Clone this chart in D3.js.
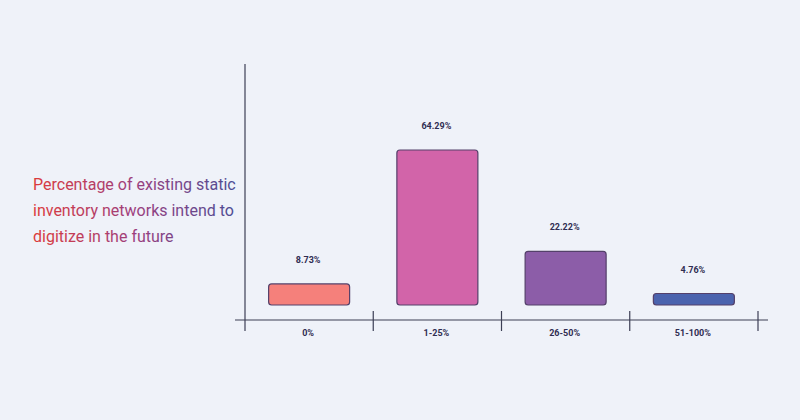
<!DOCTYPE html>
<html>
<head>
<meta charset="utf-8">
<script src="https://cdn.jsdelivr.net/npm/d3@7"></script>
<style>
  body { margin: 0; background: #eff2f9; }
  svg { display: block; }
</style>
</head>
<body>
<div id="chart-area"></div>
<script>
// chart data
var categories = ["0%", "1-25%", "26-50%", "51-100%"];
var values = [8.73, 64.29, 22.22, 4.76];
var barColors = ["#f5807b", "#d264a9", "#8c5da8", "#4b63ae"];
var titleLines = ["Percentage of existing static", "inventory networks intend to", "digitize in the future"];

var width = 800, height = 420;
var svg = d3.select("#chart-area").append("svg").attr("width", width).attr("height", height);
svg.append("rect").attr("width", width).attr("height", height).attr("fill", "#eff2f9");

var axisY = 320;
var baseY = 305;
var x = d3.scaleBand().domain(categories).range([245, 758]).paddingInner(0).paddingOuter(0);
var y = d3.scaleLinear().domain([0, 64.29]).range([baseY, 150]);

// title gradient
var defs = svg.append("defs");
var grad = defs.append("linearGradient").attr("id", "titleGrad")
    .attr("gradientUnits", "userSpaceOnUse").attr("x1", 33).attr("y1", 0).attr("x2", 236).attr("y2", 0);
grad.append("stop").attr("offset", "0%").attr("stop-color", "#dc3a3c");
grad.append("stop").attr("offset", "50%").attr("stop-color", "#9c3f7e");
grad.append("stop").attr("offset", "100%").attr("stop-color", "#4c4c94");

svg.append("g").selectAll("text").data(titleLines).enter().append("text")
    .attr("x", 33).attr("y", (d, i) => 190 + i * 26)
    .attr("font-family", "Roboto, sans-serif").attr("font-size", "16px")
    .attr("fill", "url(#titleGrad)")
    .text(d => d);

// axes
svg.append("line").attr("x1", 245).attr("x2", 245).attr("y1", 64).attr("y2", 331)
    .attr("stroke", "#3c3f55").attr("stroke-width", 1.2);
svg.append("line").attr("x1", 235).attr("x2", 768).attr("y1", axisY).attr("y2", axisY)
    .attr("stroke", "#3c3f55").attr("stroke-width", 1.2);

var tickXs = categories.map(c => x(c)).concat([x.range()[1]]);
svg.append("g").selectAll("line").data(tickXs.slice(1)).enter().append("line")
    .attr("x1", d => d).attr("x2", d => d).attr("y1", 311).attr("y2", 331)
    .attr("stroke", "#3c3f55").attr("stroke-width", 1.2);

svg.append("g").selectAll("text").data(categories).enter().append("text")
    .attr("x", c => x(c) + x.bandwidth() / 2 - 1).attr("y", 336)
    .attr("text-anchor", "middle")
    .attr("font-family", "Roboto, sans-serif").attr("font-weight", "bold").attr("font-size", "9px")
    .attr("fill", "#2f2d52")
    .text(c => c);

// bars
var barW = 81;
svg.append("g").selectAll("rect").data(values).enter().append("rect")
    .attr("x", (d, i) => x(categories[i]) + (x.bandwidth() - barW) / 2)
    .attr("y", d => y(d))
    .attr("width", barW)
    .attr("height", d => baseY - y(d))
    .attr("rx", 3).attr("ry", 3)
    .attr("fill", (d, i) => barColors[i])
    .attr("stroke", "#54406a").attr("stroke-width", 1.2);

// value labels
svg.append("g").selectAll("text").data(values).enter().append("text")
    .attr("x", (d, i) => x(categories[i]) + x.bandwidth() / 2 - 1)
    .attr("y", d => y(d) - 21)
    .attr("text-anchor", "middle")
    .attr("font-family", "Roboto, sans-serif").attr("font-weight", "bold").attr("font-size", "9px")
    .attr("fill", "#2f2d52")
    .text(d => d.toFixed(2) + "%");
</script>
</body>
</html>
